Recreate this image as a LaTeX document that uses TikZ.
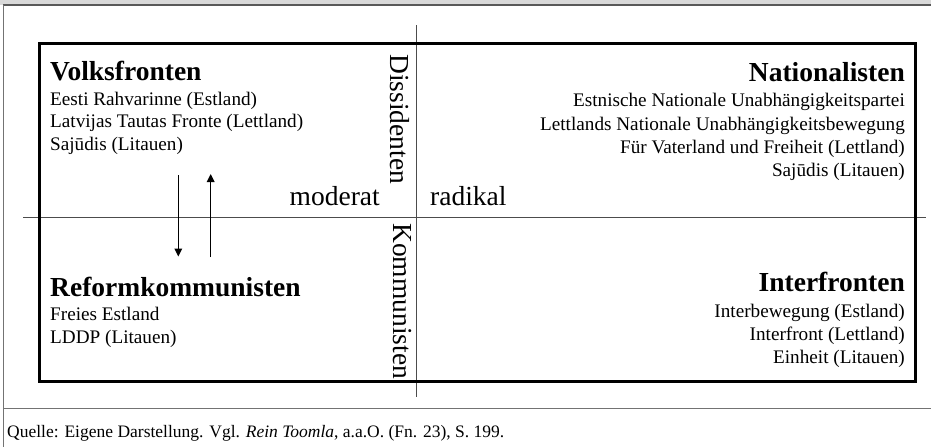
\documentclass[tikz,border=0pt]{standalone}
\usepackage{fontspec}
\setmainfont{Liberation Serif}
\usetikzlibrary{arrows.meta}
\begin{document}
\begin{tikzpicture}[x=1pt,y=-1pt,
  head/.style={font=\fontsize{27.5}{30}\selectfont\bfseries, inner sep=0pt},
  item/.style={font=\fontsize{19.2}{23}\selectfont, inner sep=0pt},
  axislabel/.style={font=\fontsize{27.5}{30}\selectfont, inner sep=0pt},
  caption/.style={font=\fontsize{17.5}{22}\selectfont, inner sep=0pt},
  axisline/.style={draw=black!70, line width=1pt},
  frameline/.style={draw=black!55, line width=1.3pt},
  flow/.style={draw=black, line width=1.5pt, -{Triangle[length=8pt,width=7.5pt]}}]
\useasboundingbox (0,0) rectangle (931,447);
% top band and outer frame
\fill[black!15] (0,0) rectangle (931,4.5);
\draw[black!65, line width=1.5pt] (3.3,5.2) -- (931,5.2);
\draw[frameline] (3.3,5) -- (3.3,447);
\draw[frameline] (3.3,408.5) -- (931,408.5);
% axes
\coordinate (vtop) at (416,25);
\coordinate (vbot) at (416,397);
\coordinate (hleft) at (23,217);
\coordinate (hright) at (926,217);
\draw[axisline] (vtop) -- (vbot);
\draw[axisline] (hleft) -- (hright);
% main box
\draw[line width=3pt] (39.2,43) rectangle (915,381.7);
% Volksfronten
\node[head, anchor=base west] (vf) at (50,80) {Volksfronten};
\node[item, anchor=base west] (vf1) at (50,105) {Eesti Rahvarinne (Estland)};
\node[item, anchor=base west] (vf2) at (50,127.5) {Latvijas Tautas Fronte (Lettland)};
\node[item, anchor=base west] (vf3) at (50,150) {Sajūdis (Litauen)};
% Nationalisten
\node[head, anchor=base east] (na) at (905,81.5) {Nationalisten};
\node[item, anchor=base east] (na1) at (905,106) {Estnische Nationale Unabhängigkeitspartei};
\node[item, anchor=base east] (na2) at (905,130) {Lettlands Nationale Unabhängigkeitsbewegung};
\node[item, anchor=base east] (na3) at (905,153) {Für Vaterland und Freiheit (Lettland)};
\node[item, anchor=base east] (na4) at (905,176.5) {Sajūdis (Litauen)};
% Reformkommunisten
\node[head, anchor=base west] (rk) at (50,296.5) {Reformkommunisten};
\node[item, anchor=base west] (rk1) at (50,320.5) {Freies Estland};
\node[item, anchor=base west] (rk2) at (50,343.5) {LDDP (Litauen)};
% Interfronten
\node[head, anchor=base east] (if) at (905,291.5) {Interfronten};
\node[item, anchor=base east] (if1) at (905,317) {Interbewegung (Estland)};
\node[item, anchor=base east] (if2) at (905,340) {Interfront (Lettland)};
\node[item, anchor=base east] (if3) at (905,363) {Einheit (Litauen)};
% axis labels
\node[axislabel, anchor=base east] (mod) at (380,205) {moderat};
\node[axislabel, anchor=base west] (rad) at (430,205) {radikal};
\node[axislabel, anchor=base west, rotate=-90] (dis) at (390.5,54) {Dissidenten};
\node[axislabel, anchor=base west, rotate=-90] (kom) at (393,223) {Kommunisten};
% arrows
\coordinate (d1) at (178.3,175);
\coordinate (d2) at (178.3,256.5);
\coordinate (u1) at (210.7,257);
\coordinate (u2) at (210.7,174);
\draw[flow] (d1) -- (d2);
\draw[flow] (u1) -- (u2);
% caption
\node[caption, anchor=base west] (src) at (7,437) {Quelle: Eigene Darstellung. Vgl. \textit{Rein Toomla}, a.a.O. (Fn. 23), S. 199.};
\end{tikzpicture}
\end{document}
